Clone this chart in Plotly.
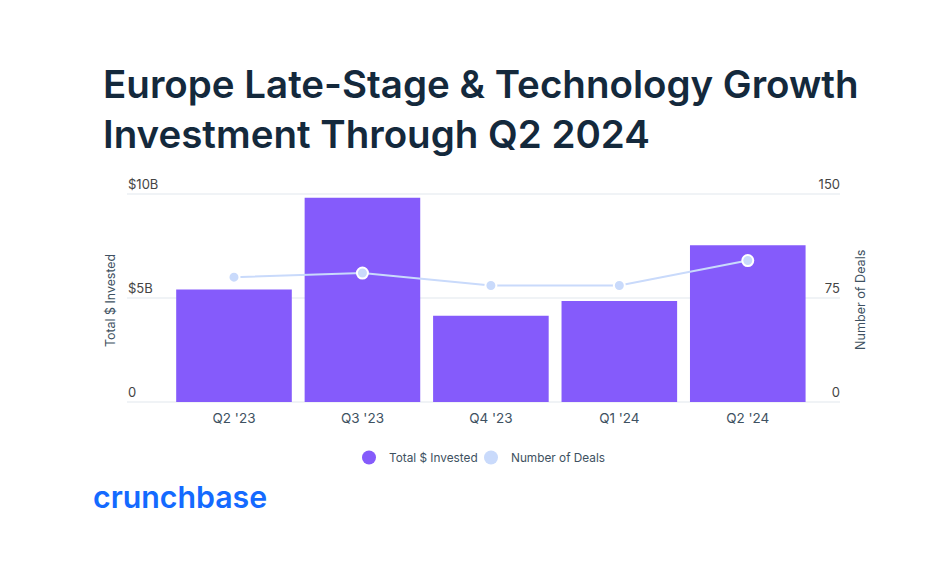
import plotly.graph_objects as go

quarters = ["Q2 '23", "Q3 '23", "Q4 '23", "Q1 '24", "Q2 '24"]
invested = [5.41, 9.82, 4.14, 4.85, 7.53]  # $B
deals = [90, 93, 84, 84, 102]

left_ticks = [0, 5, 10]
left_labels = ["0", "$5B", "$10B"]
right_ticks = [0, 75, 150]
right_labels = ["0", "75", "150"]

PURPLE = "#855BFB"
LIGHT = "#C9DAFB"
GRID = "#F0F3F6"
DARK = "#14293C"
TEXT = "#3E5161"
FONT = "Inter"

W, H = 927, 568
L, R, T, B = 127, 840, 170, 402
# the plot runs a bit above the top gridline so the inside labels at 10 / 150 still draw
top_left = 11.15
top_right = 167.3


def px_x(x):
    return (x - L) / (R - L)


def px_y(y):
    return (B - y) / (B - T)


fig = go.Figure()
fig.add_trace(go.Bar(x=quarters, y=invested, marker_color=PURPLE, marker_line_width=0,
                     showlegend=False, hoverinfo="y"))
fig.add_trace(go.Scatter(x=quarters, y=deals, yaxis="y2", mode="lines+markers", showlegend=False,
                         line=dict(color=LIGHT, width=2),
                         marker=dict(size=11, color=LIGHT, line=dict(color="white", width=2))))
# legend shows circles for both series, each in its own legend so the spacing can be set
fig.add_trace(go.Scatter(x=[None], y=[None], mode="markers", name="Total $ Invested", legend="legend",
                         marker=dict(size=14, color=PURPLE)))
fig.add_trace(go.Scatter(x=[None], y=[None], mode="markers", name="Number of Deals", legend="legend2",
                         marker=dict(size=14, color=LIGHT)))

fig.update_layout(
    width=W, height=H,
    margin=dict(l=L, r=W - R, t=T, b=H - B, autoexpand=False),
    paper_bgcolor="white", plot_bgcolor="white",
    font=dict(family=FONT, size=13, color=TEXT),
    bargap=0.1,
    title=dict(text="Europe Late-Stage & Technology Growth<br>Investment Through Q2 2024",
               x=103 / W, xref="container", xanchor="left",
               y=1 - 98 / H, yref="container", yanchor="top",
               font=dict(family=FONT, size=38.5, color=DARK, weight=600)),
    xaxis=dict(type="category", categoryorder="array", categoryarray=quarters,
               range=[-0.833, 4.718], showgrid=False, zeroline=False,
               ticks="", ticklen=0, ticklabelstandoff=6, tickfont=dict(size=13.5, color=TEXT)),
    yaxis=dict(range=[0, top_left], tickvals=left_ticks, ticktext=left_labels,
               ticklabelposition="inside top", ticklabelstandoff=-2, showgrid=True, gridcolor=GRID, gridwidth=1.5,
               zeroline=True, zerolinecolor=GRID, zerolinewidth=1.5),
    yaxis2=dict(range=[0, top_right], tickvals=right_ticks, ticktext=right_labels, overlaying="y", side="right",
                ticklabelposition="inside top", ticklabelstandoff=-3, showgrid=False, zeroline=False),
    legend=dict(x=px_x(349), xanchor="left", y=px_y(443), yanchor="top",
                font=dict(size=11.8, color=TEXT), bgcolor="rgba(0,0,0,0)"),
    legend2=dict(x=px_x(471), xanchor="left", y=px_y(443), yanchor="top",
                 font=dict(size=11.8, color=TEXT), bgcolor="rgba(0,0,0,0)"),
    annotations=[
        dict(text="Total $ Invested", xref="paper", yref="paper", x=px_x(110), y=px_y(301),
             xanchor="center", yanchor="middle",
             textangle=-90, showarrow=False, font=dict(size=12.4, color=TEXT)),
        dict(text="Number of Deals", xref="paper", yref="paper", x=px_x(860), y=px_y(300),
             xanchor="center", yanchor="middle",
             textangle=-90, showarrow=False, font=dict(size=12.6, color=TEXT)),
        dict(text="crunchbase", xref="paper", yref="paper",
             x=px_x(91), xanchor="left", y=px_y(497), yanchor="middle",
             showarrow=False, font=dict(family=FONT, size=30.3, color="#146AFF", weight=600)),
    ],
)

# default page margin would push the figure 8px in
fig.write_html("out.html", config=dict(displayModeBar=False),
               post_script="document.body.style.margin='0';")
